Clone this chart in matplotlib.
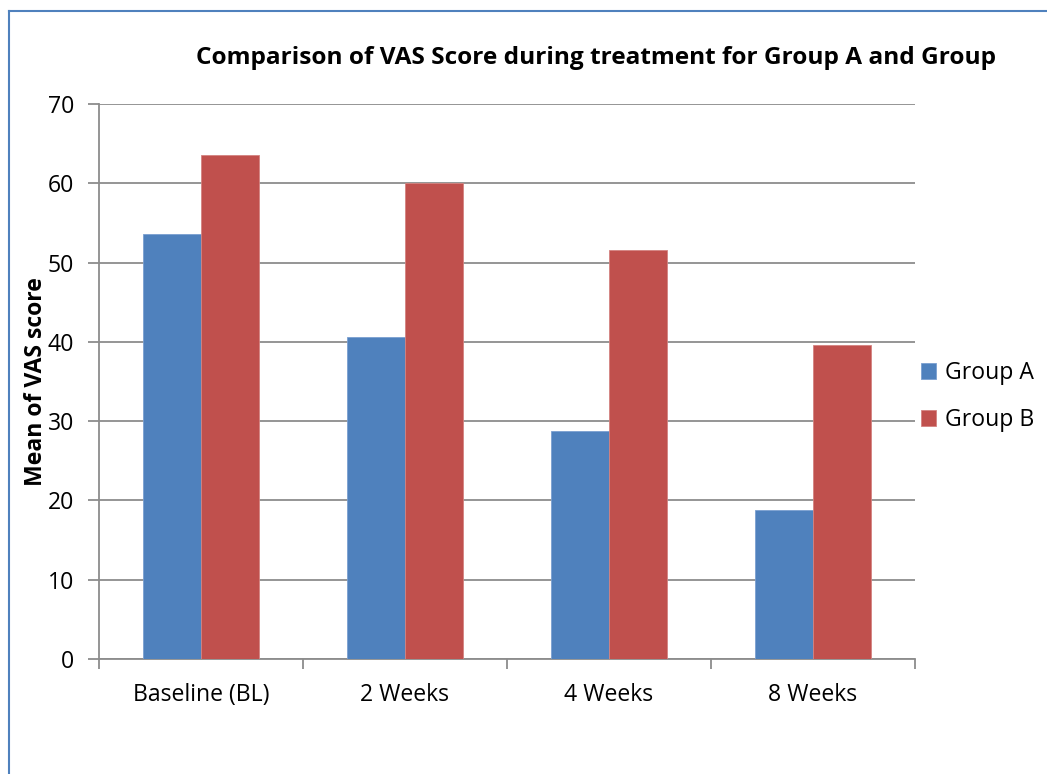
import matplotlib
matplotlib.use("Agg")
import matplotlib.pyplot as plt
from matplotlib.lines import Line2D
import numpy as np

CATEGORIES = ["Baseline (BL)", "2 Weeks", "4 Weeks", "8 Weeks"]
GROUP_A = [53.6, 40.6, 28.8, 18.8]
GROUP_B = [63.6, 60.0, 51.6, 39.6]
SERIES_NAMES = ["Group A", "Group B"]
Y_TICKS = [0, 10, 20, 30, 40, 50, 60, 70]

BLUE = "#4F81BD"
RED = "#C0504D"
GRID = "#8C8C8C"
FS = 16.6

plt.rcParams["font.family"] = ["Open Sans", "DejaVu Sans"]

fig = plt.figure(figsize=(10.47, 7.74), dpi=100)
ax = fig.add_axes([99 / 1047, 1 - 659 / 774, (915 - 99) / 1047, (659 - 104) / 774])

x = np.arange(len(CATEGORIES))
w = 0.284
ax.bar(x - w / 2, GROUP_A, w, color=BLUE, edgecolor="#7A9FD0", linewidth=0.6,
       label=SERIES_NAMES[0], zorder=3)
ax.bar(x + w / 2, GROUP_B, w, color=RED, edgecolor="#D48380", linewidth=0.6,
       label=SERIES_NAMES[1], zorder=3)

ax.set_xlim(-0.5, len(CATEGORIES) - 0.5)
ax.set_ylim(0, 70)
ax.set_yticks(Y_TICKS)
ax.yaxis.grid(True, color=GRID, linewidth=1.3, zorder=0)
ax.set_axisbelow(True)

ax.set_xticks(x)
ax.set_xticklabels(CATEGORIES, fontsize=FS)
ax.tick_params(axis="x", length=0, pad=17)
ax.set_xticks(np.arange(len(CATEGORIES) + 1) - 0.5, minor=True)
ax.tick_params(axis="x", which="minor", length=7, width=1.3, color=GRID, direction="out")
ax.tick_params(axis="y", length=8, width=1.3, color=GRID, labelsize=FS, pad=10)

for s in ["top", "right"]:
    ax.spines[s].set_visible(False)
for s in ["left", "bottom"]:
    ax.spines[s].set_color(GRID)
    ax.spines[s].set_linewidth(1.3)

ax.set_ylabel("Mean of VAS score", fontsize=FS, fontweight="bold", labelpad=0)

fig.text(596 / 1047, 1 - 58 / 774,
         "Comparison of VAS Score during treatment for Group A and Group",
         ha="center", va="center", fontsize=17.6, fontweight="bold")

ax.legend(loc="center left", bbox_to_anchor=(0.99, 0.473), frameon=False,
          fontsize=FS, handlelength=0.65, handleheight=0.65, handletextpad=0.4,
          labelspacing=1.0, borderaxespad=0.2)

# chart frame (left and top edges visible)
fig.add_artist(Line2D([9 / 1047, 9 / 1047], [0, 1 - 11 / 774], color="#4F81BD",
                      linewidth=1.5, transform=fig.transFigure))
fig.add_artist(Line2D([9 / 1047, 1], [1 - 11 / 774, 1 - 11 / 774], color="#4F81BD",
                      linewidth=1.5, transform=fig.transFigure))

fig.savefig("out.png", dpi=100)
